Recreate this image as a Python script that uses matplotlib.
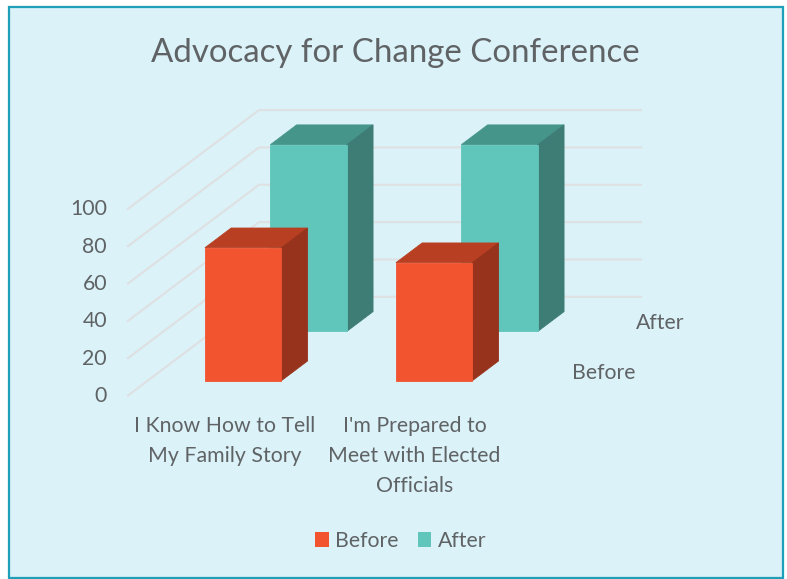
""" Advocacy for Change Conference, 3D style bar chart drawn on a flat pixel axes. """

import matplotlib
matplotlib.use('Agg')
import matplotlib.pyplot as plt
from matplotlib.patches import Patch, Polygon, Rectangle

categories = ['I Know How to Tell\nMy Family Story', "I'm Prepared to\nMeet with Elected\nOfficials"]
series_names = ['Before', 'After']
before = [71.2, 63.2]
after = [100, 100]
yticks = [0, 20, 40, 60, 80, 100]

# projection of the chart box, in pixels
X0, Y0 = 128, 395.5
CAT_W = 191
PX_PER_UNIT = 1.867
DEPTH_X, DEPTH_Y = 131, -98.7
BAR_W = 0.4
BAR_D = 0.2

BG = '#daf2f8'
TEXT = '#606365'
GRID = '#dfe0e2'
FS = 15.3


def project(cat, val, depth):
    return (X0 + cat*CAT_W + depth*DEPTH_X, Y0 - val*PX_PER_UNIT + depth*DEPTH_Y)


def bar3d(ax, cat, val, depth, front, top, side):
    x0 = cat + (1 - BAR_W)/2
    x1 = x0 + BAR_W
    d0 = depth - BAR_D/2
    d1 = depth + BAR_D/2
    faces = [
        ([(x0, val, d0), (x1, val, d0), (x1, val, d1), (x0, val, d1)], top),
        ([(x1, 0, d0), (x1, val, d0), (x1, val, d1), (x1, 0, d1)], side),
        ([(x0, 0, d0), (x1, 0, d0), (x1, val, d0), (x0, val, d0)], front),
    ]
    for pts, col in faces:
        ax.add_patch(Polygon([project(*p) for p in pts], closed=True, facecolor=col,
                             edgecolor=col, linewidth=0.6, zorder=3))


plt.rcParams['font.family'] = ['Lato', 'DejaVu Sans']

fig = plt.figure(figsize=(7.87, 5.79), dpi=100, facecolor='white')
ax = fig.add_axes([0, 0, 1, 1])
ax.set_xlim(0, 787)
ax.set_ylim(579, 0)
ax.axis('off')

ax.add_patch(Rectangle((9, 6.5), 774, 571, facecolor=BG, edgecolor='#1f9fb8', linewidth=1.6))

ax.text(395.5, 53, 'Advocacy for Change Conference', ha='center', va='center',
        fontsize=23.8, color=TEXT)

for v in yticks:
    ax.plot(*zip(project(0, v, 0), project(0, v, 1), project(2, v, 1)),
            color=GRID, linewidth=1.5, zorder=1)
    ax.text(107, project(0, v, 0)[1] + 0.5, str(v), ha='right', va='center',
            fontsize=FS, color=TEXT)

for i in range(len(categories)):
    bar3d(ax, i, after[i], 0.75, '#60c6bb', '#46958b', '#3e7c76')
for i in range(len(categories)):
    bar3d(ax, i, before[i], 0.25, '#f35430', '#b93f22', '#97331c')

ax.text(224.5, 416, categories[0], ha='center', va='top', fontsize=FS, color=TEXT, linespacing=1.62)
ax.text(414.5, 416, categories[1], ha='center', va='top', fontsize=FS, color=TEXT, linespacing=1.62)
ax.text(635, 373, series_names[0], ha='right', va='center', fontsize=FS, color=TEXT)
ax.text(684, 323, series_names[1], ha='right', va='center', fontsize=FS, color=TEXT)

handles = [Patch(facecolor='#f35430', label=series_names[0]),
           Patch(facecolor='#60c6bb', label=series_names[1])]
ax.legend(handles=handles, loc='center', bbox_to_anchor=(400.5, 541), bbox_transform=ax.transData,
          ncol=2, frameon=False, fontsize=FS, labelcolor=TEXT, handlelength=0.65, handleheight=0.65,
          handletextpad=0.3, columnspacing=0.9)

fig.savefig('out.png', dpi=100, facecolor='white')
plt.close()
